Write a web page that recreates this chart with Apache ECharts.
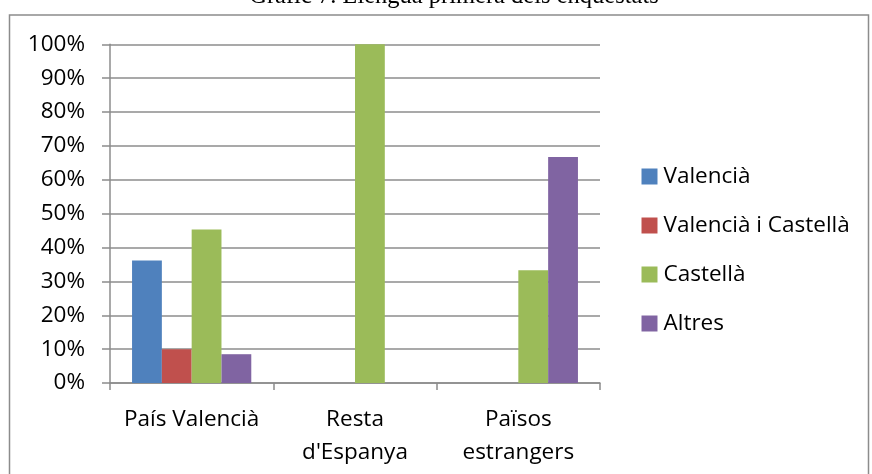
<!DOCTYPE html>
<html>
<head>
<meta charset="utf-8">
<script src="https://cdn.jsdelivr.net/npm/echarts@6/dist/echarts.min.js"></script>
<style>
html,body{margin:0;padding:0;background:#fff;}
#c{width:872px;height:474px;}
</style>
</head>
<body>
<div id="c"></div>
<script>
const titleText = "Gràfic 7. Llengua primera dels enquestats";
const categories = ["País Valencià", "Resta\nd'Espanya", "Països\nestrangers"];
const yTicks = [0, 10, 20, 30, 40, 50, 60, 70, 80, 90, 100];
const valencia = [36.2, 0, 0];
const valenciaCastella = [10, 0, 0];
const castella = [45.3, 100, 33.3];
const altres = [8.5, 0, 66.7];
const seriesNames = ["Valencià", "Valencià i Castellà", "Castellà", "Altres"];
const colors = ["#4F81BD", "#C0504D", "#9BBB59", "#8064A2"];

const FONT = "Open Sans";
const FS = 22.5;
const chart = echarts.init(document.getElementById('c'));
const dataSets = [valencia, valenciaCastella, castella, altres];
chart.setOption({
  animation: false,
  backgroundColor: '#fff',
  graphic: [
    { type: 'rect', shape: { x: 9.5, y: 15, width: 859, height: 520 }, style: { fill: 'none', stroke: '#8c8c8c', lineWidth: 1.5 } },
    { type: 'text', x: 454, y: 9, style: { text: titleText, font: '24.5px "Liberation Serif"', fill: '#000', textAlign: 'center', textVerticalAlign: 'bottom' } }
  ],
  grid: { left: 110, right: 272, top: 44.3, bottom: 91, containLabel: false },
  legend: {
    orient: 'vertical', left: 641.5, top: 165, padding: 0, itemWidth: 16, itemHeight: 16, itemGap: 26,
    icon: 'rect',
    textStyle: { fontFamily: FONT, fontSize: FS, color: '#000', padding: [0, 0, 0, 1] },
    data: seriesNames
  },
  xAxis: {
    type: 'category', data: categories,
    axisLine: { lineStyle: { color: '#8c8c8c', width: 1.5 } },
    axisTick: { show: true, length: 7, alignWithLabel: false, lineStyle: { color: '#8c8c8c', width: 1.5 } },
    axisLabel: { fontFamily: FONT, fontSize: FS, color: '#000', lineHeight: 33, margin: 20, interval: 0 }
  },
  yAxis: {
    type: 'value', min: 0, max: 100, interval: 10,
    axisLine: { show: true, lineStyle: { color: '#8c8c8c', width: 1.5 } },
    axisTick: { show: true, length: 8, lineStyle: { color: '#8c8c8c', width: 1.5 } },
    splitLine: { lineStyle: { color: '#8c8c8c', width: 1.5 } },
    axisLabel: { fontFamily: FONT, fontSize: FS, color: '#000', margin: 25, formatter: v => yTicks.includes(v) ? v + '%' : '' }
  },
  series: dataSets.map((d, i) => ({
    name: seriesNames[i], type: 'bar', data: d,
    barGap: '0%', barCategoryGap: '27%',
    itemStyle: { color: colors[i] }
  }))
});
</script>
</body>
</html>
